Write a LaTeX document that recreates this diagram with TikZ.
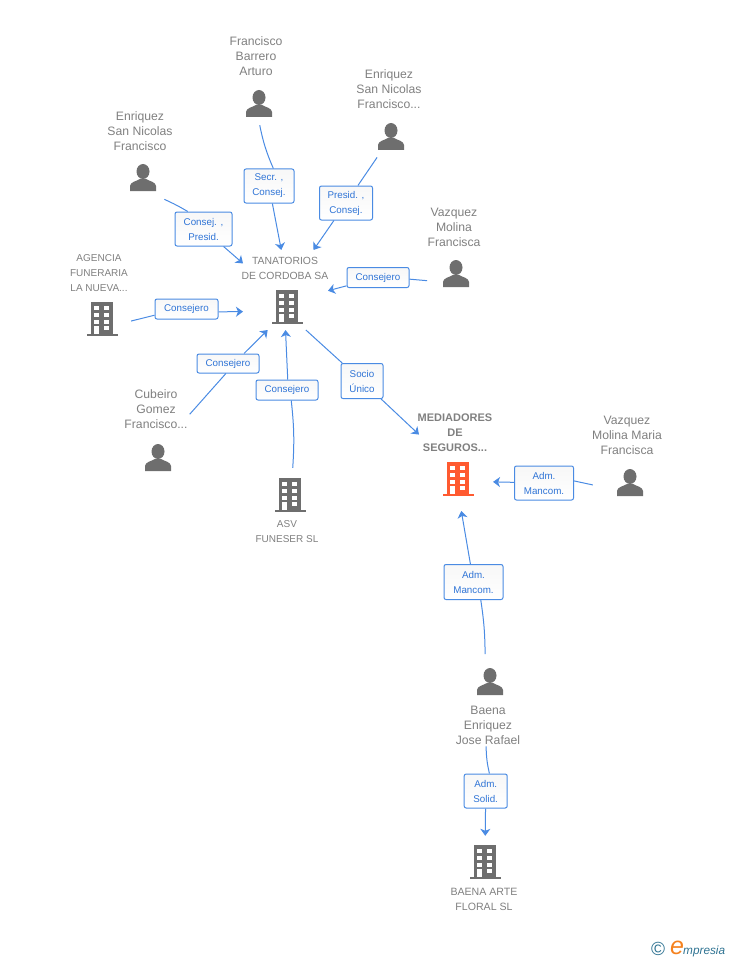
\documentclass[tikz,border=0pt]{standalone}
\usepackage{fontspec}
\setmainfont{Liberation Sans}
\usetikzlibrary{arrows.meta}
\definecolor{linkblue}{HTML}{4A8BE3}
\definecolor{textblue}{HTML}{2F74D6}
\definecolor{icongrey}{HTML}{6E6E6E}
\definecolor{textgrey}{HTML}{808080}
\definecolor{mainorange}{HTML}{FF5A30}
\definecolor{logoteal}{HTML}{2F7392}
\definecolor{logoorange}{HTML}{F5821F}
\tikzset{
	linkbox/.style={draw=linkblue,line width=1pt,rounded corners=2pt,top color=black!3,bottom color=white,text=textblue,align=center,inner sep=0pt,font=\fontsize{9.8}{15}\selectfont},
	persontxt/.style={text=textgrey,align=center,inner sep=2pt,font=\fontsize{12.2}{15}\selectfont},
	firmtxt/.style={text=textgrey,align=center,inner sep=2pt,font=\fontsize{#1}{15}\selectfont},
	zone/.style={circle,inner sep=0pt,minimum size=#1},
	firmzone/.style={rectangle,inner sep=0pt,outer sep=0pt},
	link/.style={draw=linkblue,line width=1pt},
	linkto/.style={link,-{Stealth[length=7pt,width=10pt,inset=2pt]}}
}
\newcommand{\personicon}[1]{
	\begin{scope}[shift={(#1)}]
		\fill[icongrey] (0,-6.5) ellipse (6.5 and 7.5);
		\fill[icongrey] (-13,13) -- (-13,8) .. controls (-13,4) and (-6,3) .. (-3,1) -- (3,1) .. controls (6,3) and (13,4) .. (13,8) -- (13,13) -- cycle;
	\end{scope}
}
\newcommand{\buildingicon}[2]{
	\begin{scope}[shift={(#1)}]
		\fill[#2] (-10.8,-17) rectangle (10.8,15);
		\fill[#2] (-15.5,14.7) rectangle (15.5,16.7);
		\foreach \wy in {-12.7,-6,0.7} {
			\fill[white] (-7.7,\wy) rectangle (-2.7,\wy+4);
			\fill[white] (2.3,\wy) rectangle (7,\wy+4);
		}
		\fill[white] (-7.7,7.3) rectangle (-2.7,14.7);
		\fill[white] (2.3,7.3) rectangle (7,11.3);
	\end{scope}
}

\begin{document}
\begin{tikzpicture}[x=1pt,y=-1pt]
	\useasboundingbox (0,0) rectangle (728,960);

	\node[persontxt] (barrerotxt) at (256,56) {Francisco\\Barrero\\Arturo};
	\node[persontxt] (sannicolastxt) at (389,89) {Enriquez\\San Nicolas\\Francisco...};
	\node[persontxt] (enriqueztxt) at (140,131) {Enriquez\\San Nicolas\\Francisco};
	\node[persontxt] (molinatxt) at (454,227) {Vazquez\\Molina\\Francisca};
	\node[persontxt] (cubeirotxt) at (156,409.5) {Cubeiro\\Gomez\\Francisco...};
	\node[persontxt] (mariatxt) at (627,435.5) {Vazquez\\Molina Maria\\Francisca};
	\node[persontxt] (baenatxt) at (488,725) {Baena\\Enriquez\\Jose Rafael};
	\node[firmtxt=10] (agenciatxt) at (99,273.5) {AGENCIA\\FUNERARIA\\LA NUEVA...};
	\node[firmtxt=10.4] (tanatoriostxt) at (285,268.5) {TANATORIOS\\DE CORDOBA SA};
	\node[firmtxt=10] (asvtxt) at (287,531.5) {ASV\\FUNESER SL};
	\node[firmtxt=10.6] (floraltxt) at (484,899) {BAENA ARTE\\FLORAL SL};
	\node[firmtxt=11,font=\fontsize{11}{15}\selectfont\bfseries] (mediadorestxt) at (455,432.5) {MEDIADORES\\DE\\SEGUROS...};

	\node[zone=42pt] (barrero) at (259,104) {};
	\node[zone=49pt] (sannicolas) at (391,137) {};
	\node[zone=60pt] (enriquez) at (143,178) {};
	\node[zone=59pt] (molina) at (456,274) {};
	\node[zone=74pt] (maria) at (630,483) {};
	\node[zone=56pt] (baena) at (490,682) {};
	\node[zone=58pt] (agencia) at (102,319) {};
	\node[zone=54pt] (asv) at (290,495) {};
	\node[zone=52pt] (floral) at (485,862) {};
	\node[firmzone,minimum width=85pt,minimum height=80pt] (tanatorios) at (285.5,290) {};
	\node[firmzone,minimum width=74pt,minimum height=101pt] (mediadores) at (456,460.5) {};

	\personicon{259,104}
	\personicon{391,137}
	\personicon{143,178}
	\personicon{456,274}
	\personicon{158,458}
	\personicon{630,483}
	\personicon{490,682}
	\buildingicon{102,319}{icongrey}
	\buildingicon{287,307}{icongrey}
	\buildingicon{290,495}{icongrey}
	\buildingicon{485,862}{icongrey}
	\buildingicon{458,479}{mainorange}

	\node[linkbox,minimum width=50pt,minimum height=34pt] (secr) at (269,186) {Secr. ,\\Consej.};
	\node[linkbox,minimum width=53pt,minimum height=34pt] (presid) at (346,203) {Presid. ,\\Consej.};
	\node[linkbox,minimum width=57pt,minimum height=34pt] (consejpresid) at (203.5,229) {Consej. ,\\Presid.};
	\node[linkbox,minimum width=62pt,minimum height=20pt] (consmolina) at (378,277.5) {Consejero};
	\node[linkbox,minimum width=63pt,minimum height=20pt] (consagencia) at (186.5,309) {Consejero};
	\node[linkbox,minimum width=62pt,minimum height=19pt] (conscubeiro) at (228,363.5) {Consejero};
	\node[linkbox,minimum width=62pt,minimum height=20pt] (consasv) at (287,390) {Consejero};
	\node[linkbox,minimum width=42pt,minimum height=35pt] (socio) at (362,381) {Socio\\Único};
	\node[linkbox,minimum width=59pt,minimum height=34pt] (mancommaria) at (544,483) {Adm.\\Mancom.};
	\node[linkbox,minimum width=59pt,minimum height=35pt] (mancombaena) at (473.5,582) {Adm.\\Mancom.};
	\node[linkbox,minimum width=43pt,minimum height=34pt] (solid) at (485.7,791) {Adm.\\Solid.};

	\draw[link] (barrero.272) to[bend right=6] (secr.76);
	\draw[linkto] (secr) -- (tanatorios.96);
	\draw[link] (sannicolas) -- (presid);
	\draw[linkto] (presid) -- (tanatorios.55);
	\draw[link] (enriquez.315) to[bend left=3] (consejpresid.132);
	\draw[linkto] (consejpresid) -- (tanatorios.148);
	\draw[link] (molina.193) -- (consmolina.357);
	\draw[linkto] (consmolina) -- (tanatorios.359);
	\draw[link] (agencia.356) -- (consagencia.191);
	\draw[linkto] (consagencia.355) -- (tanatorios.207);
	\draw[link] (cubeirotxt.352) -- (conscubeiro.258);
	\draw[linkto] (conscubeiro.32) -- (tanatorios.246);
	\draw[link] (asv) to[bend right=5] (consasv.292);
	\draw[linkto] (consasv.86) -- (tanatorios.270);
	\draw[link] (tanatorios.297) -- (socio);
	\draw[linkto] (socio) -- (mediadores.145);
	\draw[link] (maria.183) -- (mancommaria.4);
	\draw[linkto] (mancommaria) -- (mediadores.330);
	\draw[link] (baena.100) to[bend right=4] (mancombaena.292);
	\draw[linkto] (mancombaena) -- (mediadores.276);
	\draw[link] (baenatxt.265) to[bend right=6] (solid.78);
	\draw[linkto] (solid) -- (floral);

	\node[text=logoteal,inner sep=0pt,font=\fontsize{19}{19}\selectfont] (copyr) at (658,948.5) {\textcopyright};
	\node[text=logoorange,inner sep=0pt,font=\fontsize{25}{25}\selectfont\itshape] (logoe) at (677,948) {e};
	\node[text=logoteal,inner sep=0pt,anchor=west,font=\fontsize{11.8}{15}\selectfont\itshape] (logotxt) at (683,951) {mpresia};
\end{tikzpicture}
\end{document}
